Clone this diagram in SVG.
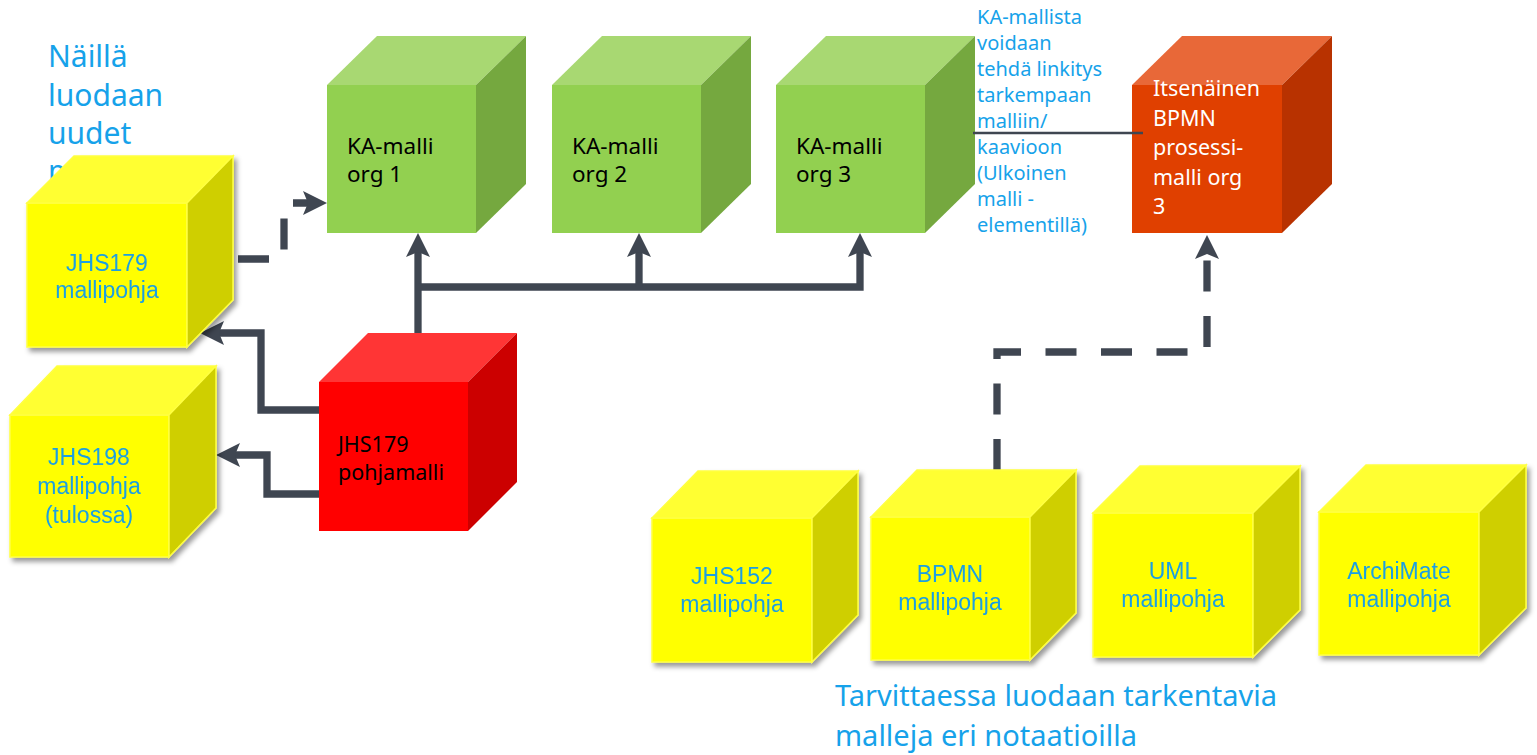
<svg xmlns="http://www.w3.org/2000/svg" width="1537" height="755" viewBox="0 0 1537 755">
<defs>
<style>
.gf{fill:#92D050}.gt{fill:#A8D872}.gr{fill:#75A83F}
.rf{fill:#FF0000}.rt{fill:#FF3535}.rr{fill:#CC0000}
.of{fill:#E04000}.ot{fill:#E86838}.or{fill:#B83200}
.yf{fill:#FFFF00;stroke:#FFFF40;stroke-width:1.5}.yt{fill:#FFFF33;stroke:#FFFF40;stroke-width:1.5}.yr{fill:#CFCF00;stroke:#FFFF40;stroke-width:1.5}
.seg{font-family:"Noto Sans","Open Sans","DejaVu Sans",sans-serif}
.blue{fill:#16A2EA}
.ytx{font-family:"Liberation Sans",Arial,sans-serif;font-size:23px;fill:#1A9FE3;text-anchor:middle}
.conn{fill:none;stroke:#3F4651;stroke-width:7.3;stroke-linejoin:miter}
.dash{stroke-dasharray:31 24.5}
</style>
<marker id="arr" markerUnits="userSpaceOnUse" viewBox="0 0 24 24" markerWidth="24" markerHeight="24" refX="14" refY="12" orient="auto">
<path d="M0,0 L24,12 L0,24 L5,12 Z" fill="#3F4651"/>
</marker>
<filter id="sh" x="-10%" y="-10%" width="130%" height="130%">
<feDropShadow dx="3" dy="4" stdDeviation="2.5" flood-color="#000" flood-opacity="0.4"/>
</filter>
</defs>

<g id="title-left" class="seg blue" font-size="30">
<text x="48" y="67">Näillä</text>
<text x="48" y="106">luodaan</text>
<text x="48" y="144">uudet</text>
<text x="48" y="182">m</text>
</g>

<g id="connectors">
<path class="conn" d="M418,333 V243" marker-end="url(#arr)"/>
<path class="conn" d="M418,287 H860 V243" marker-end="url(#arr)"/>
<path class="conn" d="M639,287 V243" marker-end="url(#arr)"/>
<path class="conn" d="M319,410 H261 V333 H210" marker-end="url(#arr)"/>
<path class="conn" d="M319,494 H267 V455 H226" marker-end="url(#arr)"/>
<path class="conn dash" d="M238,259 H284 V203 H317" marker-end="url(#arr)"/>
<path class="conn dash" d="M997,470 V352 H1207 V245" marker-end="url(#arr)"/>
</g>

<g id="jhs179-mallipohja" filter="url(#sh)">
<rect class="yf" x="27" y="203" width="160" height="144"/>
<path class="yt" d="M27,203 L74,156 L233,156 L187,203 Z"/>
<path class="yr" d="M187,203 L233,156 L233,300 L187,347 Z"/>
<text class="ytx" x="107" y="271">JHS179</text>
<text class="ytx" x="107" y="298">mallipohja</text>
</g>

<g id="jhs198-mallipohja" filter="url(#sh)">
<rect class="yf" x="10" y="415" width="159" height="142"/>
<path class="yt" d="M10,415 L57,366 L216,366 L169,415 Z"/>
<path class="yr" d="M169,415 L216,366 L216,508 L169,557 Z"/>
<text class="ytx" x="89" y="465">JHS198</text>
<text class="ytx" x="89" y="494">mallipohja</text>
<text class="ytx" x="89" y="523">(tulossa)</text>
</g>

<g id="jhs179-pohjamalli">
<rect class="rf" x="319" y="382" width="149" height="149"/>
<path class="rt" d="M319,382 L368,333 L517,333 L468,382 Z"/>
<path class="rr" d="M468,382 L517,333 L517,482 L468,531 Z"/>
<text class="seg" font-size="21.5" fill="#000" x="338" y="452">JHS179</text>
<text class="seg" font-size="21.5" fill="#000" x="338" y="480">pohjamalli</text>
</g>

<g id="ka-malli-org1">
<rect class="gf" x="327" y="85" width="149" height="148"/>
<path class="gt" d="M327,85 L377,36 L526,36 L476,85 Z"/>
<path class="gr" d="M476,85 L526,36 L526,184 L476,233 Z"/>
<text class="seg" font-size="22.5" fill="#000" x="347" y="154">KA-malli</text>
<text class="seg" font-size="22.5" fill="#000" x="347" y="182">org 1</text>
</g>

<g id="ka-malli-org2">
<rect class="gf" x="552" y="85" width="149" height="148"/>
<path class="gt" d="M552,85 L602,36 L751,36 L701,85 Z"/>
<path class="gr" d="M701,85 L751,36 L751,184 L701,233 Z"/>
<text class="seg" font-size="22.5" fill="#000" x="572" y="154">KA-malli</text>
<text class="seg" font-size="22.5" fill="#000" x="572" y="182">org 2</text>
</g>

<g id="ka-malli-org3">
<rect class="gf" x="776" y="85" width="149" height="148"/>
<path class="gt" d="M776,85 L826,36 L975,36 L925,85 Z"/>
<path class="gr" d="M925,85 L975,36 L975,184 L925,233 Z"/>
<text class="seg" font-size="22.5" fill="#000" x="796" y="154">KA-malli</text>
<text class="seg" font-size="22.5" fill="#000" x="796" y="182">org 3</text>
</g>

<g id="bpmn-prosessimalli-org3">
<rect class="of" x="1132" y="85" width="150" height="148"/>
<path class="ot" d="M1132,85 L1182,36 L1332,36 L1282,85 Z"/>
<path class="or" d="M1282,85 L1332,36 L1332,184 L1282,233 Z"/>
<g class="seg" font-size="21.5" fill="#FFFFFF">
<text x="1153" y="96">Itsenäinen</text>
<text x="1153" y="125.5">BPMN</text>
<text x="1153" y="155">prosessi-</text>
<text x="1153" y="184.5">malli org</text>
<text x="1153" y="214">3</text>
</g>
</g>

<g id="link-line">
<path d="M973,133 H1143" fill="none" stroke="#3F4651" stroke-width="2.3"/>
</g>

<g id="link-note" class="seg blue" font-size="20">
<text x="977" y="24">KA-mallista</text>
<text x="977" y="50">voidaan</text>
<text x="977" y="76">tehdä linkitys</text>
<text x="977" y="102">tarkempaan</text>
<text x="977" y="128">malliin/</text>
<text x="977" y="154">kaavioon</text>
<text x="977" y="180">(Ulkoinen</text>
<text x="977" y="206">malli -</text>
<text x="977" y="232">elementillä)</text>
</g>

<g id="jhs152-mallipohja" filter="url(#sh)">
<rect class="yf" x="652" y="518" width="160" height="144"/>
<path class="yt" d="M652,518 L698,471 L858,471 L812,518 Z"/>
<path class="yr" d="M812,518 L858,471 L858,615 L812,662 Z"/>
<text class="ytx" x="732" y="584">JHS152</text>
<text class="ytx" x="732" y="612">mallipohja</text>
</g>

<g id="bpmn-mallipohja" filter="url(#sh)">
<rect class="yf" x="871" y="517" width="159" height="143"/>
<path class="yt" d="M871,517 L917,470 L1076,470 L1030,517 Z"/>
<path class="yr" d="M1030,517 L1076,470 L1076,613 L1030,660 Z"/>
<text class="ytx" x="950" y="582">BPMN</text>
<text class="ytx" x="950" y="610">mallipohja</text>
</g>

<g id="uml-mallipohja" filter="url(#sh)">
<rect class="yf" x="1093" y="513" width="160" height="144"/>
<path class="yt" d="M1093,513 L1140,466 L1300,466 L1253,513 Z"/>
<path class="yr" d="M1253,513 L1300,466 L1300,610 L1253,657 Z"/>
<text class="ytx" x="1173" y="579">UML</text>
<text class="ytx" x="1173" y="607">mallipohja</text>
</g>

<g id="archimate-mallipohja" filter="url(#sh)">
<rect class="yf" x="1319" y="512" width="160" height="143"/>
<path class="yt" d="M1319,512 L1366,465 L1526,465 L1479,512 Z"/>
<path class="yr" d="M1479,512 L1526,465 L1526,608 L1479,655 Z"/>
<text class="ytx" x="1399" y="579">ArchiMate</text>
<text class="ytx" x="1399" y="607">mallipohja</text>
</g>

<g id="bottom-note" class="seg blue" font-size="29">
<text x="835" y="706">Tarvittaessa luodaan tarkentavia</text>
<text x="835" y="746">malleja eri notaatioilla</text>
</g>
</svg>
